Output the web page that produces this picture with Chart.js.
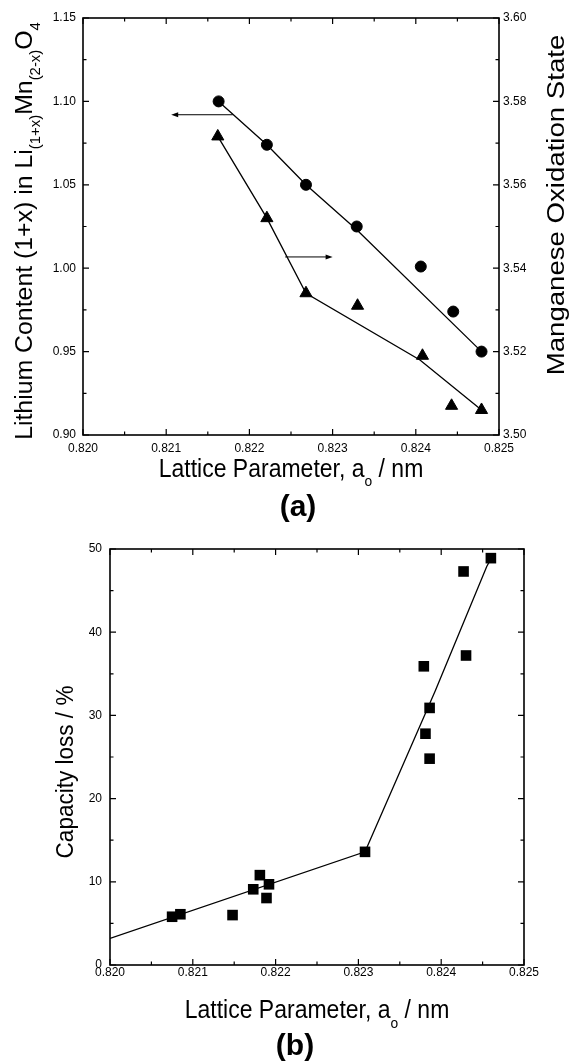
<!DOCTYPE html>
<html>
<head>
<meta charset="utf-8">
<script src="https://cdn.jsdelivr.net/npm/chart.js@4.4.1/dist/chart.umd.min.js"></script>
<style>
  body { margin: 0; background: #fff; }
  canvas { position: absolute; left: 0; }
  #chartA { top: 0; }
  #chartB { top: 530px; }
</style>
</head>
<body>
<canvas id="chartA" width="571" height="530"></canvas>
<canvas id="chartB" width="571" height="531"></canvas>
<script>
// (a) lithium content (circles, left axis) and Mn oxidation state (triangles, right axis)
var latticeCircles = [0.82163, 0.82221, 0.82268, 0.82329, 0.82406, 0.82445, 0.82479];
var lithiumContent = [1.100, 1.074, 1.050, 1.025, 1.001, 0.974, 0.950];
var lithiumFitX = [0.82163, 0.82221, 0.82268, 0.82329, 0.82479];
var lithiumFitY = [1.100, 1.074, 1.050, 1.023, 0.950];

var latticeTriangles = [0.82162, 0.82221, 0.82268, 0.82330, 0.82408, 0.82443, 0.82479];
var oxidationState = [3.5716, 3.552, 3.534, 3.531, 3.519, 3.507, 3.506];
var oxidationFitX = [0.82162, 0.82221, 0.82268, 0.82405, 0.82479];
var oxidationFitY = [3.5716, 3.552, 3.534, 3.518, 3.506];

// arrows pointing at the axis each series belongs to: [tail x, head x], y
var arrowLithiumX = [0.82180, 0.82106];
var arrowLithiumY = 1.092;
var arrowOxidationX = [0.82243, 0.82300];
var arrowOxidationY = 3.5427;

// (b) capacity loss
var latticeB = [0.82075, 0.82085, 0.82148, 0.82173, 0.82181, 0.82189, 0.82192, 0.82308,
  0.82379, 0.82381, 0.82386, 0.82386, 0.82427, 0.82430, 0.82460];
var capacityLoss = [5.8, 6.1, 6.0, 9.1, 10.8, 8.05, 9.7, 13.6, 35.9, 27.8, 30.9, 24.8, 47.3, 37.2, 48.9];
var capacityFitX = [0.820, 0.82308, 0.82393, 0.82455, 0.82461];
var capacityFitY = [3.2, 13.6, 33.0, 47.9, 49.0];

// axis ranges and tick steps
var latticeRange = [0.820, 0.825];
var latticeSteps = [0.001, 0.0005];
var lithiumRange = [0.90, 1.15];
var lithiumSteps = [0.05, 0.025];
var oxidationRange = [3.50, 3.60];
var oxidationSteps = [0.02, 0.01];
var capacityRange = [0, 50];
var capacitySteps = [10, 5];

var FONT = "'Liberation Sans', Arial, sans-serif";

function pts(xs, ys) {
  return xs.map((x, i) => ({ x: x, y: ys[i] }));
}

function tickFont() {
  return { family: FONT, size: 12 };
}

// text with subscripts, optional rotation and vertical stretch
function drawTitle(ctx, t) {
  var size = t.size;
  var weight = t.bold ? 'bold ' : '';
  ctx.save();
  ctx.fillStyle = '#000';
  ctx.textBaseline = 'alphabetic';
  ctx.textAlign = 'left';
  ctx.translate(t.x, t.y);
  if (t.rotate) {
    ctx.rotate(-Math.PI / 2);
    ctx.scale(t.stretch, 1);
  } else {
    ctx.scale(1, t.stretch);
  }
  var total = 0;
  var widths = t.parts.map(p => {
    ctx.font = weight + (p.sub ? size * 0.6 : size) + 'px ' + FONT;
    var w = ctx.measureText(p.t).width;
    total += w;
    return w;
  });
  var x = -total / 2;
  t.parts.forEach((p, i) => {
    ctx.font = weight + (p.sub ? size * 0.6 : size) + 'px ' + FONT;
    ctx.fillText(p.t, x, p.sub ? size * 0.38 : 0);
    x += widths[i];
  });
  ctx.restore();
}

// frame plus inward ticks on all four sides
function drawFrame(chart, xSteps, ySteps) {
  var ctx = chart.ctx;
  var a = chart.chartArea;
  var xs = chart.scales.x;
  var ys = chart.scales.y;
  ctx.save();
  ctx.strokeStyle = '#000';
  ctx.lineWidth = 1.2;
  ctx.beginPath();
  var n = Math.round((xs.max - xs.min) / xSteps[1]);
  for (var i = 0; i <= n; i++) {
    var px = xs.getPixelForValue(xs.min + i * xSteps[1]);
    var len = i % 2 === 0 ? 6 : 3.5;
    ctx.moveTo(px, a.bottom); ctx.lineTo(px, a.bottom - len);
    ctx.moveTo(px, a.top); ctx.lineTo(px, a.top + len);
  }
  n = Math.round((ys.max - ys.min) / ySteps[1]);
  for (var j = 0; j <= n; j++) {
    var py = ys.getPixelForValue(ys.min + j * ySteps[1]);
    var l = j % 2 === 0 ? 6 : 3.5;
    ctx.moveTo(a.left, py); ctx.lineTo(a.left + l, py);
    ctx.moveTo(a.right, py); ctx.lineTo(a.right - l, py);
  }
  ctx.stroke();
  ctx.lineWidth = 1.6;
  ctx.strokeRect(a.left, a.top, a.right - a.left, a.bottom - a.top);
  ctx.restore();
}

function drawArrow(chart, xVals, yVal, yScale) {
  var ctx = chart.ctx;
  var xs = chart.scales.x;
  var x0 = xs.getPixelForValue(xVals[0]);
  var x1 = xs.getPixelForValue(xVals[1]);
  var y = chart.scales[yScale].getPixelForValue(yVal);
  var dir = x1 > x0 ? 1 : -1;
  ctx.save();
  ctx.strokeStyle = '#000';
  ctx.fillStyle = '#000';
  ctx.lineWidth = 1;
  ctx.beginPath();
  ctx.moveTo(x0, y);
  ctx.lineTo(x1 - dir * 5, y);
  ctx.stroke();
  ctx.beginPath();
  ctx.moveTo(x1, y);
  ctx.lineTo(x1 - dir * 7, y - 2.5);
  ctx.lineTo(x1 - dir * 7, y + 2.5);
  ctx.closePath();
  ctx.fill();
  ctx.restore();
}

function baseAxis(range, step, digits, padding, width) {
  return {
    min: range[0],
    max: range[1],
    grid: { display: false, drawTicks: false },
    border: { display: false },
    ticks: {
      stepSize: step,
      padding: padding,
      color: '#000',
      font: tickFont(),
      callback: v => v.toFixed(digits)
    },
    afterFit: s => { s.width = width; }
  };
}

function latticeAxis(height, padding) {
  return {
    type: 'linear',
    min: latticeRange[0],
    max: latticeRange[1],
    grid: { display: false, drawTicks: false },
    border: { display: false },
    ticks: {
      stepSize: latticeSteps[0],
      padding: padding,
      maxRotation: 0,
      color: '#000',
      font: tickFont(),
      callback: v => v.toFixed(3)
    },
    afterFit: s => { s.height = height; }
  };
}

var latticeTitle = [{ t: 'Lattice Parameter, a' }, { t: 'o', sub: true }, { t: ' / nm' }];

var decorA = {
  id: 'decorA',
  afterDraw(chart) {
    drawFrame(chart, latticeSteps, lithiumSteps);
    drawArrow(chart, arrowLithiumX, arrowLithiumY, 'y');
    drawArrow(chart, arrowOxidationX, arrowOxidationY, 'y2');
    var ctx = chart.ctx;
    drawTitle(ctx, { parts: latticeTitle, x: 291, y: 476.5, size: 23, stretch: 1.12 });
    drawTitle(ctx, {
      parts: [
        { t: 'Lithium Content (1+x) in Li' }, { t: '(1+x)', sub: true },
        { t: 'Mn' }, { t: '(2-x)', sub: true }, { t: 'O' }, { t: '4', sub: true }
      ],
      x: 31.5, y: 231, size: 23, stretch: 1.08, rotate: true
    });
    drawTitle(ctx, { parts: [{ t: 'Manganese Oxidation State' }], x: 564, y: 205, size: 23, stretch: 1.2, rotate: true });
    drawTitle(ctx, { parts: [{ t: '(a)' }], x: 298, y: 516, size: 30, stretch: 1, bold: true });
  }
};

var decorB = {
  id: 'decorB',
  afterDraw(chart) {
    drawFrame(chart, latticeSteps, capacitySteps);
    var ctx = chart.ctx;
    drawTitle(ctx, { parts: latticeTitle, x: 317, y: 488, size: 23, stretch: 1.12 });
    drawTitle(ctx, { parts: [{ t: 'Capacity loss / %' }], x: 73.3, y: 242, size: 23, stretch: 0.98, rotate: true });
    drawTitle(ctx, { parts: [{ t: '(b)' }], x: 295, y: 525, size: 30, stretch: 1, bold: true });
  }
};

new Chart(document.getElementById('chartA'), {
  type: 'scatter',
  data: {
    datasets: [
      {
        data: pts(latticeCircles, lithiumContent),
        yAxisID: 'y',
        pointStyle: 'circle',
        pointRadius: 5.5,
        backgroundColor: '#000',
        borderColor: '#000',
        borderWidth: 1
      },
      {
        data: pts(latticeTriangles, oxidationState),
        yAxisID: 'y2',
        pointStyle: 'triangle',
        pointRadius: 7,
        backgroundColor: '#000',
        borderColor: '#000',
        borderWidth: 1
      },
      {
        data: pts(lithiumFitX, lithiumFitY),
        yAxisID: 'y',
        showLine: true,
        pointRadius: 0,
        borderColor: '#000',
        borderWidth: 1.3
      },
      {
        data: pts(oxidationFitX, oxidationFitY),
        yAxisID: 'y2',
        showLine: true,
        pointRadius: 0,
        borderColor: '#000',
        borderWidth: 1.3
      }
    ]
  },
  options: {
    responsive: false,
    animation: false,
    layout: { padding: { top: 18 } },
    plugins: { legend: { display: false }, tooltip: { enabled: false } },
    scales: {
      x: latticeAxis(95, 6),
      y: Object.assign(baseAxis(lithiumRange, lithiumSteps[0], 2, 7, 83), { position: 'left' }),
      y2: Object.assign(baseAxis(oxidationRange, oxidationSteps[0], 2, 4, 72), { position: 'right' })
    }
  },
  plugins: [decorA]
});

var rightSpacer = baseAxis(capacityRange, capacitySteps[0], 0, 0, 47);
rightSpacer.position = 'right';
rightSpacer.ticks.display = false;

new Chart(document.getElementById('chartB'), {
  type: 'scatter',
  data: {
    datasets: [
      {
        data: pts(latticeB, capacityLoss),
        pointStyle: 'rect',
        pointRadius: 7.5,
        backgroundColor: '#000',
        borderColor: '#000',
        borderWidth: 0
      },
      {
        data: pts(capacityFitX, capacityFitY),
        showLine: true,
        pointRadius: 0,
        borderColor: '#000',
        borderWidth: 1.3
      }
    ]
  },
  options: {
    responsive: false,
    animation: false,
    layout: { padding: { top: 19 } },
    plugins: { legend: { display: false }, tooltip: { enabled: false } },
    scales: {
      x: latticeAxis(96, 0),
      y: Object.assign(baseAxis(capacityRange, capacitySteps[0], 0, 8, 110), { position: 'left' }),
      y2: rightSpacer
    }
  },
  plugins: [decorB]
});
</script>
</body>
</html>
